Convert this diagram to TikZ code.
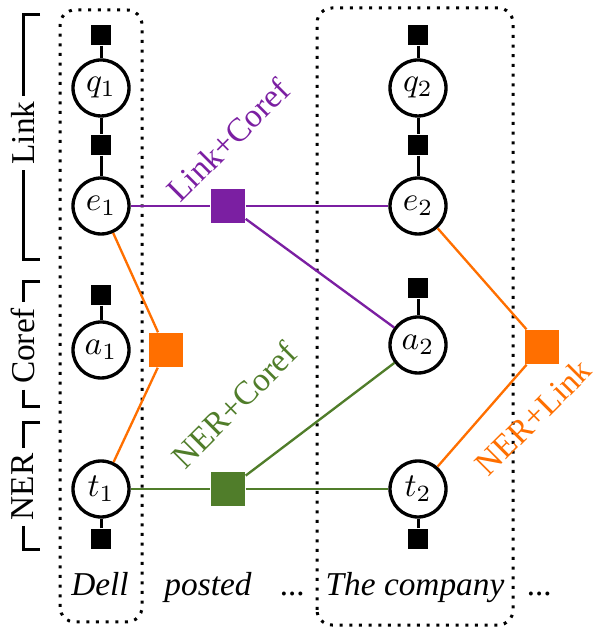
\documentclass[tikz,border=0pt]{standalone}
\usepackage{amsmath}
\usepackage{fontspec}
\setmainfont{Liberation Serif}
\usepackage{tikz}
\usetikzlibrary{positioning, calc}
\definecolor{lcpurple}{RGB}{123,31,162}
\definecolor{nlorange}{RGB}{255,111,0}
\definecolor{ncgreen}{RGB}{80,125,42}
\tikzset{
  var/.style={circle, draw, line width=1pt, fill=white, minimum size=16.8pt, inner sep=0pt},
  unary/.style={fill=black, minimum size=6pt, inner sep=0pt},
  factor/.style={minimum size=10.2pt, inner sep=0pt},
  task/.style={rotate=90, inner sep=1.5pt},
  word/.style={font=\itshape, anchor=base},
  tok/.style={draw, dotted, line width=0.9pt, rounded corners=4.5pt},
  pair/.style={line width=0.7pt},
}

\begin{document}
\begin{tikzpicture}[x=30pt, y=30pt]
\useasboundingbox (0,0) rectangle (6.00,6.29);

% ---------------- Token boxes ----------------
\draw[tok] (0.60,0.07) rectangle (1.42,6.19);
\draw[tok] (3.17,0.04) rectangle (5.13,6.21);

% ---------------- Variables and unary factors ----------------
\foreach \i/\cx/\ay/\uy in {1/1.01/2.79/3.34, 2/4.18/2.84/3.41} {
  \node[var] (q\i) at (\cx,5.41) {$q_\i$};
  \node[var] (e\i) at (\cx,4.23) {$e_\i$};
  \node[var] (a\i) at (\cx,\ay) {$a_\i$};
  \node[var] (t\i) at (\cx,1.40) {$t_\i$};
  \node[unary] (uq\i) at (\cx,5.94) {};
  \node[unary] (ue\i) at (\cx,4.84) {};
  \node[unary] (ua\i) at (\cx,\uy) {};
  \node[unary] (ut\i) at (\cx,0.90) {};
  \draw[line width=0.9pt] (uq\i) -- (q\i) -- (ue\i) -- (e\i);
  \draw[line width=0.9pt] (ua\i) -- (a\i);
  \draw[line width=0.9pt] (ut\i) -- (t\i);
}

% ---------------- Pairwise factors ----------------
\node[factor, fill=lcpurple] (lc) at (2.28,4.23) {};
\node[factor, fill=nlorange] (nl1) at (1.66,2.79) {};
\node[factor, fill=ncgreen] (nc) at (2.28,1.40) {};
\node[factor, fill=nlorange] (nl2) at (5.42,2.82) {};

\draw[pair, lcpurple] (e1) -- (lc) -- (e2);
\draw[pair, lcpurple] (lc) -- (a2);
\draw[pair, nlorange] (e1) -- (nl1) -- (t1);
\draw[pair, ncgreen] (t1) -- (nc) -- (t2);
\draw[pair, ncgreen] (nc) -- (a2);
\draw[pair, nlorange] (e2) -- (nl2) -- (t2);

% Labels
\node[lcpurple, rotate=45] at (2.28,4.89) {Link+Coref};
\node[ncgreen, rotate=45] at (2.34,2.24) {NER+Coref};
\node[nlorange, rotate=45] at (5.33,2.12) {NER+Link};

% ---------------- Words ----------------
\node[word] (w1) at (1.00,0.33) {Dell};
\node[word] (w2) at (2.08,0.33) {posted};
\node[word] (w3) at (2.93,0.33) {...};
\node[word] (w4) at (4.15,0.33) {The company};
\node[word] (w5) at (5.40,0.33) {...};

% ---------------- Task brackets ----------------
\node[task] (link) at (0.23,4.96) {Link};
\draw[line width=0.9pt] (0.40,6.14) -- (0.23,6.14) -- (link.east);
\draw[line width=0.9pt] (link.west) -- (0.23,3.69) -- (0.40,3.69);
\node[task] (coref) at (0.23,2.83) {Coref};
\draw[line width=0.9pt] (0.40,3.47) -- (0.23,3.47) -- (coref.east);
\draw[line width=0.9pt] (coref.west) -- (0.23,2.22) -- (0.40,2.22);
\node[task] (ner) at (0.23,1.42) {NER};
\draw[line width=0.9pt] (0.40,2.06) -- (0.23,2.06) -- (ner.east);
\draw[line width=0.9pt] (ner.west) -- (0.23,0.79) -- (0.40,0.79);
\end{tikzpicture}
\end{document}
